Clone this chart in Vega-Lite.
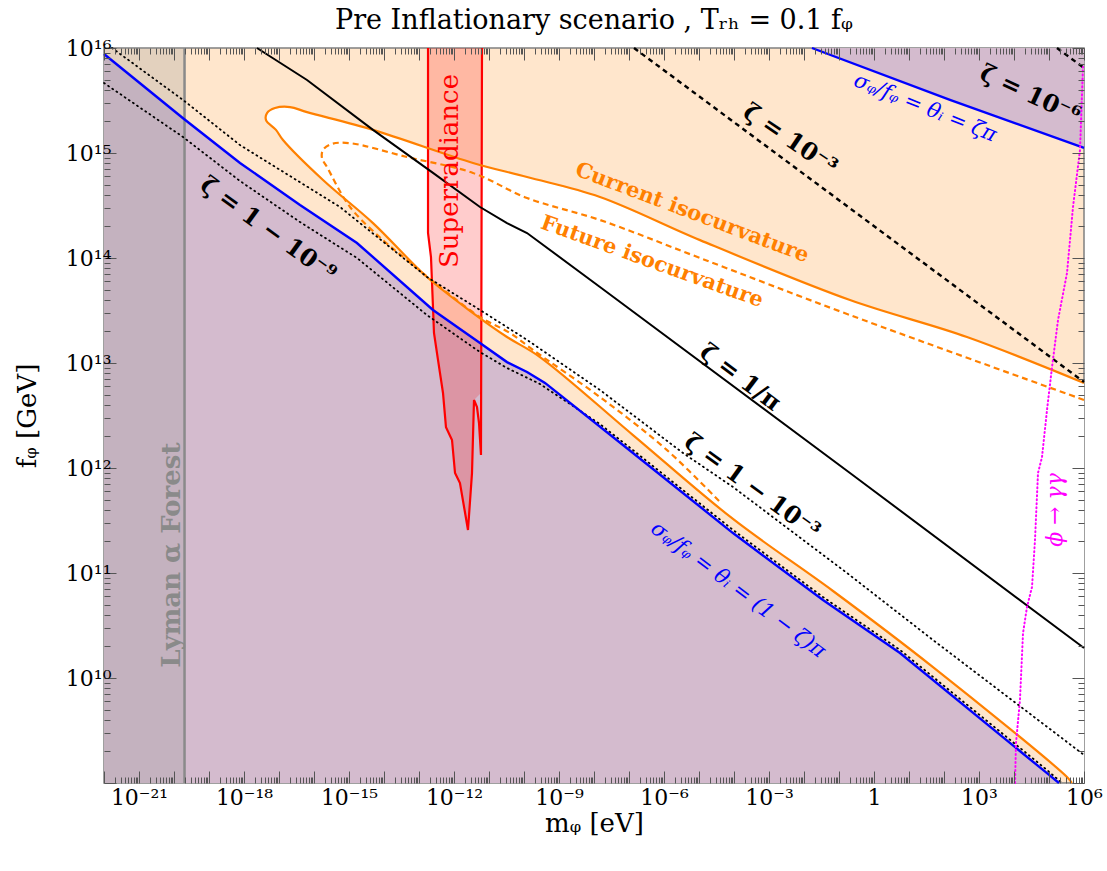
{
  "$schema": "https://vega.github.io/schema/vega-lite/v6.json",
  "width": 980,
  "height": 735,
  "autosize": {"type": "none"},
  "padding": {"left": 104, "top": 48, "right": 23, "bottom": 88},
  "background": "white",
  "title": {"text": "Pre Inflationary scenario , Tᵣₕ = 0.1 fᵩ", "font": "DejaVu Serif", "fontSize": 27, "fontWeight": "normal", "color": "black", "offset": 2},
  "config": {
    "view": {"fill": "#FFE6CC", "stroke": "#808080", "strokeWidth": 1.5},
    "axis": {"zindex": 1, "domain": false, "grid": false, "tickColor": "#555555", "tickWidth": 1, "labelFont": "DejaVu Serif", "labelFontSize": 22, "labelColor": "black", "titleFont": "DejaVu Serif", "titleFontSize": 26, "titleFontWeight": "normal", "titleColor": "black", "labelFlush": false, "labelOverlap": false}
  },
  "layer": [
    {
      "data": {"values": [
        {"f": 2.74e15, "ml": 1.22e-17, "mr": 2.06e-17},
        {"f": 2.57e15, "ml": 5.53e-18, "mr": 3.49e-17},
        {"f": 2.30e15, "ml": 4.26e-18, "mr": 1.48e-16},
        {"f": 2.06e15, "ml": 4.26e-18, "mr": 4.54e-16},
        {"f": 1.66e15, "ml": 8.2e-18, "mr": 4.85e-15},
        {"f": 1.33e15, "ml": 1.30e-17, "mr": 3.49e-14},
        {"f": 8.04e14, "ml": 5.9e-17, "mr": 3.49e-12},
        {"f": 5.53e14, "ml": 1.81e-16, "mr": 2.51e-10},
        {"f": 3.81e14, "ml": 6.74e-16, "mr": 1.48e-8},
        {"f": 2.15e14, "ml": 4.85e-15, "mr": 7.69e-7},
        {"f": 1.48e14, "ml": 1.48e-14, "mr": 1.07e-5},
        {"f": 6.59e13, "ml": 1.69e-13, "mr": 4.54e-3},
        {"f": 3.98e13, "ml": 1.14e-12, "mr": 0.206},
        {"f": 1.77e13, "ml": 3.27e-11, "mr": 454},
        {"f": 1.14e13, "ml": 2.86e-10, "mr": 1.30e4},
        {"f": 6.46e12, "ml": 2.2e-9, "mr": 1e6},
        {"f": 2.06e12, "ml": 1.30e-7, "mr": 1e6},
        {"f": 3.27e11, "ml": 9.35e-5, "mr": 1e6},
        {"f": 6.74e10, "ml": 6.74e-2, "mr": 1e6},
        {"f": 1.27e10, "ml": 48.5, "mr": 1e6},
        {"f": 1.14e9, "ml": 3.27e5, "mr": 1e6},
        {"f": 1e9, "ml": 4.54e5, "mr": 1e6}
      ]},
      "mark": {"type": "area", "orient": "horizontal", "color": "white", "opacity": 1},
      "encoding": {
        "y": {"field": "f", "type": "quantitative", "scale": {"type": "log", "domain": [1e9, 1e16], "nice": false},
          "axis": {"orient": "left", "zindex": 1, "title": "fᵩ [GeV]", "titlePadding": 25, "labelPadding": 5, "tickSize": -12,
            "values": [1e9,1e10,1e11,1e12,1e13,1e14,1e15,1e16],
            "labelExpr": "datum.value == 1e10 ? '10¹⁰' : datum.value == 1e11 ? '10¹¹' : datum.value == 1e12 ? '10¹²' : datum.value == 1e13 ? '10¹³' : datum.value == 1e14 ? '10¹⁴' : datum.value == 1e15 ? '10¹⁵' : datum.value == 1e16 ? '10¹⁶' : ''"}},
        "x": {"field": "ml", "type": "quantitative", "scale": {"type": "log", "domain": [1e-22, 1e6], "nice": false},
          "axis": {"orient": "bottom", "zindex": 1, "title": "mᵩ [eV]", "titlePadding": 2, "labelPadding": 16, "tickSize": -12,
            "values": [1e-22,1e-21,1e-20,1e-19,1e-18,1e-17,1e-16,1e-15,1e-14,1e-13,1e-12,1e-11,1e-10,1e-9,1e-8,1e-7,1e-6,1e-5,1e-4,1e-3,1e-2,1e-1,1e0,1e1,1e2,1e3,1e4,1e5,1e6],
            "labelExpr": "datum.value == 1e-21 ? '10⁻²¹' : datum.value == 1e-18 ? '10⁻¹⁸' : datum.value == 1e-15 ? '10⁻¹⁵' : datum.value == 1e-12 ? '10⁻¹²' : datum.value == 1e-9 ? '10⁻⁹' : datum.value == 1e-6 ? '10⁻⁶' : datum.value == 1e-3 ? '10⁻³' : datum.value == 1 ? '1' : datum.value == 1e3 ? '10³' : datum.value == 1e6 ? '10⁶' : ''"}},
        "x2": {"field": "mr"}
      }
    },
    {
      "data": {"values": [
        {"m": 1e-22, "f": 8.77e15}, {"m": 1.93e-20, "f": 2.11e15}, {"m": 7.69e-19, "f": 8.04e14},
        {"m": 3.98e-17, "f": 3.2e14}, {"m": 1.69e-15, "f": 1.39e14}, {"m": 2.51e-13, "f": 3.2e13},
        {"m": 5.53e-12, "f": 1.55e13}, {"m": 3.27e-11, "f": 1.02e13}, {"m": 1.22e-10, "f": 8.2e12},
        {"m": 3.98e-10, "f": 6.46e12}, {"m": 1.30e-7, "f": 1.39e12}, {"m": 9.35e-5, "f": 2.4e11},
        {"m": 3.49e-2, "f": 5.53e10}, {"m": 5.53, "f": 1.73e10}, {"m": 8.77e4, "f": 1.24e9}, {"m": 1.93e5, "f": 1e9}
      ]},
      "mark": {"type": "area", "color": "#D4BBCE", "opacity": 1},
      "encoding": {
        "x": {"field": "m", "type": "quantitative",
          "axis": {"orient": "top", "zindex": 1, "title": null, "labels": false, "tickSize": -12,
            "values": [1e-22,1e-21,1e-20,1e-19,1e-18,1e-17,1e-16,1e-15,1e-14,1e-13,1e-12,1e-11,1e-10,1e-9,1e-8,1e-7,1e-6,1e-5,1e-4,1e-3,1e-2,1e-1,1e0,1e1,1e2,1e3,1e4,1e5,1e6]}},
        "y": {"field": "f", "type": "quantitative",
          "axis": {"orient": "right", "zindex": 1, "title": null, "labels": false, "tickSize": -12,
            "values": [1e9,1e10,1e11,1e12,1e13,1e14,1e15,1e16]}},
        "y2": {"datum": 1e9}
      }
    },
    {
      "data": {"values": [{"m": 1.69e-2, "f": 1e16}, {"m": 148, "f": 3.2e15}, {"m": 1e6, "f": 1.12e15}]},
      "mark": {"type": "area", "color": "#D4BBCE", "opacity": 1},
      "encoding": {
        "x": {"field": "m", "type": "quantitative",
          "axis": {"orient": "bottom", "zindex": 1, "title": null, "labels": false, "tickSize": -6,
            "values": [2e-22,3e-22,4e-22,5e-22,6e-22,7e-22,8e-22,9e-22,2e-21,3e-21,4e-21,5e-21,6e-21,7e-21,8e-21,9e-21,2e-20,3e-20,4e-20,5e-20,6e-20,7e-20,8e-20,9e-20,2e-19,3e-19,4e-19,5e-19,6e-19,7e-19,8e-19,9e-19,2e-18,3e-18,4e-18,5e-18,6e-18,7e-18,8e-18,9e-18,2e-17,3e-17,4e-17,5e-17,6e-17,7e-17,8e-17,9e-17,2e-16,3e-16,4e-16,5e-16,6e-16,7e-16,8e-16,9e-16,2e-15,3e-15,4e-15,5e-15,6e-15,7e-15,8e-15,9e-15,2e-14,3e-14,4e-14,5e-14,6e-14,7e-14,8e-14,9e-14,2e-13,3e-13,4e-13,5e-13,6e-13,7e-13,8e-13,9e-13,2e-12,3e-12,4e-12,5e-12,6e-12,7e-12,8e-12,9e-12,2e-11,3e-11,4e-11,5e-11,6e-11,7e-11,8e-11,9e-11,2e-10,3e-10,4e-10,5e-10,6e-10,7e-10,8e-10,9e-10,2e-9,3e-9,4e-9,5e-9,6e-9,7e-9,8e-9,9e-9,2e-8,3e-8,4e-8,5e-8,6e-8,7e-8,8e-8,9e-8,2e-7,3e-7,4e-7,5e-7,6e-7,7e-7,8e-7,9e-7,2e-6,3e-6,4e-6,5e-6,6e-6,7e-6,8e-6,9e-6,2e-5,3e-5,4e-5,5e-5,6e-5,7e-5,8e-5,9e-5,2e-4,3e-4,4e-4,5e-4,6e-4,7e-4,8e-4,9e-4,2e-3,3e-3,4e-3,5e-3,6e-3,7e-3,8e-3,9e-3,2e-2,3e-2,4e-2,5e-2,6e-2,7e-2,8e-2,9e-2,2e-1,3e-1,4e-1,5e-1,6e-1,7e-1,8e-1,9e-1,2e0,3e0,4e0,5e0,6e0,7e0,8e0,9e0,2e1,3e1,4e1,5e1,6e1,7e1,8e1,9e1,2e2,3e2,4e2,5e2,6e2,7e2,8e2,9e2,2e3,3e3,4e3,5e3,6e3,7e3,8e3,9e3,2e4,3e4,4e4,5e4,6e4,7e4,8e4,9e4,2e5,3e5,4e5,5e5,6e5,7e5,8e5,9e5]}},
        "y": {"field": "f", "type": "quantitative",
          "axis": {"orient": "left", "zindex": 1, "title": null, "labels": false, "tickSize": -6,
            "values": [2e9,3e9,4e9,5e9,6e9,7e9,8e9,9e9,2e10,3e10,4e10,5e10,6e10,7e10,8e10,9e10,2e11,3e11,4e11,5e11,6e11,7e11,8e11,9e11,2e12,3e12,4e12,5e12,6e12,7e12,8e12,9e12,2e13,3e13,4e13,5e13,6e13,7e13,8e13,9e13,2e14,3e14,4e14,5e14,6e14,7e14,8e14,9e14,2e15,3e15,4e15,5e15,6e15,7e15,8e15,9e15]}},
        "y2": {"datum": 1e16}
      }
    },
    {
      "data": {"values": [{"m0": 1e-22, "m1": 2e-20}]},
      "mark": {"type": "rect", "color": "#9C9C9C", "opacity": 0.28},
      "encoding": {"x": {"field": "m0", "type": "quantitative", "axis": null}, "x2": {"field": "m1"}}
    },
    {
      "data": {"values": [{"m0": 1e-22, "m1": 2e-20}]},
      "mark": {"type": "rule", "color": "#8A8A8A", "strokeWidth": 2.5},
      "encoding": {"x": {"field": "m1", "type": "quantitative", "axis": null}}
    },
    {
      "data": {"values": [
        {"f": 1e16, "ml": 1.81e-13, "mr": 6.31e-12}, {"f": 1.73e14, "ml": 1.81e-13, "mr": 6.2e-12},
        {"f": 1.02e14, "ml": 2.2e-13, "mr": 6.2e-12}, {"f": 3.41e13, "ml": 2.51e-13, "mr": 6.1e-12},
        {"f": 1.93e13, "ml": 2.68e-13, "mr": 6.1e-12}, {"f": 1.07e13, "ml": 3.49e-13, "mr": 6.0e-12},
        {"f": 5.18e12, "ml": 4.85e-13, "mr": 5.9e-12}, {"f": 4.45e12, "ml": 5.01e-13, "mr": 3.73e-12},
        {"f": 2.45e12, "ml": 5.9e-13, "mr": 3.56e-12}, {"f": 1.85e12, "ml": 8.77e-13, "mr": 3.37e-12},
        {"f": 8.96e11, "ml": 1.07e-12, "mr": 3.27e-12}, {"f": 7.2e11, "ml": 1.48e-12, "mr": 3.12e-12},
        {"f": 2.57e11, "ml": 2.51e-12, "mr": 2.51e-12}
      ]},
      "mark": {"type": "area", "orient": "horizontal", "color": "#FF0000", "opacity": 0.2},
      "encoding": {
        "y": {"field": "f", "type": "quantitative",
          "axis": {"orient": "right", "zindex": 1, "title": null, "labels": false, "tickSize": -6,
            "values": [2e9,3e9,4e9,5e9,6e9,7e9,8e9,9e9,2e10,3e10,4e10,5e10,6e10,7e10,8e10,9e10,2e11,3e11,4e11,5e11,6e11,7e11,8e11,9e11,2e12,3e12,4e12,5e12,6e12,7e12,8e12,9e12,2e13,3e13,4e13,5e13,6e13,7e13,8e13,9e13,2e14,3e14,4e14,5e14,6e14,7e14,8e14,9e14,2e15,3e15,4e15,5e15,6e15,7e15,8e15,9e15]}},
        "x": {"field": "ml", "type": "quantitative",
          "axis": {"orient": "top", "zindex": 1, "title": null, "labels": false, "tickSize": -6,
            "values": [2e-22,3e-22,4e-22,5e-22,6e-22,7e-22,8e-22,9e-22,2e-21,3e-21,4e-21,5e-21,6e-21,7e-21,8e-21,9e-21,2e-20,3e-20,4e-20,5e-20,6e-20,7e-20,8e-20,9e-20,2e-19,3e-19,4e-19,5e-19,6e-19,7e-19,8e-19,9e-19,2e-18,3e-18,4e-18,5e-18,6e-18,7e-18,8e-18,9e-18,2e-17,3e-17,4e-17,5e-17,6e-17,7e-17,8e-17,9e-17,2e-16,3e-16,4e-16,5e-16,6e-16,7e-16,8e-16,9e-16,2e-15,3e-15,4e-15,5e-15,6e-15,7e-15,8e-15,9e-15,2e-14,3e-14,4e-14,5e-14,6e-14,7e-14,8e-14,9e-14,2e-13,3e-13,4e-13,5e-13,6e-13,7e-13,8e-13,9e-13,2e-12,3e-12,4e-12,5e-12,6e-12,7e-12,8e-12,9e-12,2e-11,3e-11,4e-11,5e-11,6e-11,7e-11,8e-11,9e-11,2e-10,3e-10,4e-10,5e-10,6e-10,7e-10,8e-10,9e-10,2e-9,3e-9,4e-9,5e-9,6e-9,7e-9,8e-9,9e-9,2e-8,3e-8,4e-8,5e-8,6e-8,7e-8,8e-8,9e-8,2e-7,3e-7,4e-7,5e-7,6e-7,7e-7,8e-7,9e-7,2e-6,3e-6,4e-6,5e-6,6e-6,7e-6,8e-6,9e-6,2e-5,3e-5,4e-5,5e-5,6e-5,7e-5,8e-5,9e-5,2e-4,3e-4,4e-4,5e-4,6e-4,7e-4,8e-4,9e-4,2e-3,3e-3,4e-3,5e-3,6e-3,7e-3,8e-3,9e-3,2e-2,3e-2,4e-2,5e-2,6e-2,7e-2,8e-2,9e-2,2e-1,3e-1,4e-1,5e-1,6e-1,7e-1,8e-1,9e-1,2e0,3e0,4e0,5e0,6e0,7e0,8e0,9e0,2e1,3e1,4e1,5e1,6e1,7e1,8e1,9e1,2e2,3e2,4e2,5e2,6e2,7e2,8e2,9e2,2e3,3e3,4e3,5e3,6e3,7e3,8e3,9e3,2e4,3e4,4e4,5e4,6e4,7e4,8e4,9e4,2e5,3e5,4e5,5e5,6e5,7e5,8e5,9e5]}},
        "x2": {"field": "mr"}
      }
    },
    {
      "data": {"values": [
        {"i": 1, "m": 1.81e-13, "f": 1e16}, {"i": 2, "m": 1.81e-13, "f": 1.73e14}, {"i": 3, "m": 2.2e-13, "f": 1.02e14},
        {"i": 4, "m": 2.51e-13, "f": 3.41e13}, {"i": 5, "m": 2.68e-13, "f": 1.93e13}, {"i": 6, "m": 3.49e-13, "f": 1.07e13},
        {"i": 7, "m": 4.85e-13, "f": 5.18e12}, {"i": 8, "m": 5.9e-13, "f": 2.45e12}, {"i": 9, "m": 8.77e-13, "f": 1.85e12},
        {"i": 10, "m": 1.07e-12, "f": 8.96e11}, {"i": 11, "m": 1.48e-12, "f": 7.2e11}, {"i": 12, "m": 2.51e-12, "f": 2.57e11},
        {"i": 13, "m": 3.27e-12, "f": 8.96e11}, {"i": 14, "m": 3.73e-12, "f": 4.45e12}, {"i": 15, "m": 4.54e-12, "f": 3.81e12},
        {"i": 16, "m": 5.18e-12, "f": 2.68e12}, {"i": 17, "m": 5.9e-12, "f": 1.33e12}, {"i": 18, "m": 6.31e-12, "f": 1e16}
      ]},
      "mark": {"type": "line", "color": "#FF0000", "strokeWidth": 2.2},
      "encoding": {"x": {"field": "m", "type": "quantitative", "axis": null}, "y": {"field": "f", "type": "quantitative", "axis": null}, "order": {"field": "i"}}
    },
    {
      "data": {"values": [
        {"i": 1, "m": 1e6, "f": 6.46e12}, {"i": 2, "m": 454, "f": 1.77e13}, {"i": 3, "m": 0.206, "f": 3.98e13},
        {"i": 4, "m": 1.07e-5, "f": 1.48e14}, {"i": 5, "m": 1.48e-8, "f": 3.81e14}, {"i": 6, "m": 1.22e-10, "f": 5.9e14},
        {"i": 7, "m": 3.49e-12, "f": 8.04e14}, {"i": 8, "m": 4.85e-15, "f": 1.66e15}, {"i": 9, "m": 6.31e-17, "f": 2.45e15},
        {"i": 10, "m": 2.06e-17, "f": 2.74e15}, {"i": 11, "m": 7.69e-18, "f": 2.68e15}, {"i": 12, "m": 4.54e-18, "f": 2.40e15},
        {"i": 13, "m": 4.26e-18, "f": 2.06e15}, {"i": 14, "m": 8.2e-18, "f": 1.66e15}, {"i": 15, "m": 1.30e-17, "f": 1.33e15},
        {"i": 16, "m": 1.81e-16, "f": 5.53e14}, {"i": 17, "m": 4.85e-15, "f": 2.15e14}, {"i": 18, "m": 1.69e-13, "f": 6.59e13},
        {"i": 19, "m": 3.49e-12, "f": 2.99e13}, {"i": 20, "m": 3.27e-11, "f": 1.77e13}, {"i": 21, "m": 2.86e-10, "f": 1.14e13},
        {"i": 22, "m": 1.30e-7, "f": 2.06e12}, {"i": 23, "m": 9.35e-5, "f": 3.27e11}, {"i": 24, "m": 6.74e-2, "f": 6.74e10},
        {"i": 25, "m": 48.5, "f": 1.27e10}, {"i": 26, "m": 3.27e5, "f": 1.14e9}, {"i": 27, "m": 4.54e5, "f": 1e9}
      ]},
      "mark": {"type": "line", "color": "#FF8000", "strokeWidth": 2.2, "interpolate": "catmull-rom"},
      "encoding": {"x": {"field": "m", "type": "quantitative", "axis": null}, "y": {"field": "f", "type": "quantitative", "axis": null}, "order": {"field": "i"}}
    },
    {
      "data": {"values": [
        {"i": 1, "m": 1e6, "f": 4.45e12}, {"i": 2, "m": 0.206, "f": 2.86e13}, {"i": 3, "m": 1.07e-5, "f": 1e14},
        {"i": 4, "m": 1.48e-8, "f": 2.30e14}, {"i": 5, "m": 1.22e-10, "f": 3.73e14}, {"i": 6, "m": 3.49e-12, "f": 6.46e14},
        {"i": 7, "m": 4.54e-14, "f": 9.16e14}, {"i": 8, "m": 1.07e-15, "f": 1.24e15}, {"i": 9, "m": 3.27e-16, "f": 1.22e15},
        {"i": 10, "m": 1.81e-16, "f": 1.07e15}, {"i": 11, "m": 1.69e-16, "f": 8.96e14}, {"i": 12, "m": 2.35e-16, "f": 7.36e14},
        {"i": 13, "m": 1.07e-15, "f": 3.06e14}, {"i": 14, "m": 9.35e-15, "f": 1.48e14}, {"i": 15, "m": 4.54e-14, "f": 9.57e13},
        {"i": 16, "m": 3.98e-13, "f": 5.3e13}, {"i": 17, "m": 5.53e-12, "f": 2.74e13}, {"i": 18, "m": 3.98e-11, "f": 1.93e13},
        {"i": 19, "m": 1.81e-10, "f": 1.33e13}, {"i": 20, "m": 1.48e-8, "f": 4.74e12}, {"i": 21, "m": 1.22e-6, "f": 1.48e12},
        {"i": 22, "m": 3.98e-5, "f": 4.74e11}
      ]},
      "mark": {"type": "line", "color": "#FF8000", "strokeWidth": 2.2, "strokeDash": [6, 4], "interpolate": "catmull-rom"},
      "encoding": {"x": {"field": "m", "type": "quantitative", "axis": null}, "y": {"field": "f", "type": "quantitative", "axis": null}, "order": {"field": "i"}}
    },
    {
      "data": {"values": [
        {"m": 2.35e-18, "f": 1e16}, {"m": 6.31e-17, "f": 4.96e15}, {"m": 4.85e-15, "f": 1.66e15},
        {"m": 2.51e-13, "f": 6.46e14}, {"m": 5.53e-12, "f": 3.06e14}, {"m": 3.27e-11, "f": 2.15e14},
        {"m": 1.22e-10, "f": 1.73e14}, {"m": 1.48e-8, "f": 5.3e13}, {"m": 0.206, "f": 8.96e11}, {"m": 1e6, "f": 1.93e10}
      ]},
      "mark": {"type": "line", "color": "black", "strokeWidth": 2},
      "encoding": {"x": {"field": "m", "type": "quantitative", "axis": null}, "y": {"field": "f", "type": "quantitative", "axis": null}}
    },
    {
      "data": {"values": [{"m": 1.39e-7, "f": 1e16}, {"m": 1e6, "f": 6.59e12}]},
      "mark": {"type": "line", "color": "black", "strokeWidth": 2.4, "strokeDash": [5, 4]},
      "encoding": {"x": {"field": "m", "type": "quantitative", "axis": null}, "y": {"field": "f", "type": "quantitative", "axis": null}}
    },
    {
      "data": {"values": [{"m": 1.69e5, "f": 1e16}, {"m": 1e6, "f": 6.46e15}]},
      "mark": {"type": "line", "color": "black", "strokeWidth": 2.4, "strokeDash": [5, 4]},
      "encoding": {"x": {"field": "m", "type": "quantitative", "axis": null}, "y": {"field": "f", "type": "quantitative", "axis": null}}
    },
    {
      "data": {"values": [
        {"m": 1.69e-22, "f": 1e16}, {"m": 1.81e-20, "f": 3.2e15}, {"m": 7.69e-19, "f": 1.19e15},
        {"m": 5.53e-16, "f": 3.06e14}, {"m": 1.69e-13, "f": 6.59e13}, {"m": 5.53e-12, "f": 3.2e13},
        {"m": 1.22e-10, "f": 1.66e13}, {"m": 1.48e-8, "f": 5.53e12}, {"m": 3.49e-6, "f": 1.39e12},
        {"m": 9.35e-5, "f": 6.59e11}, {"m": 0.169, "f": 1e11}, {"m": 48.5, "f": 2.3e10}, {"m": 1e6, "f": 1.85e9}
      ]},
      "mark": {"type": "line", "color": "black", "strokeWidth": 1.8, "strokeDash": [1, 4], "strokeCap": "round"},
      "encoding": {"x": {"field": "m", "type": "quantitative", "axis": null}, "y": {"field": "f", "type": "quantitative", "axis": null}}
    },
    {
      "data": {"values": [
        {"m": 1e-22, "f": 4.64e15}, {"m": 1.81e-20, "f": 1.42e15}, {"m": 7.69e-19, "f": 5.41e14},
        {"m": 3.98e-17, "f": 2.2e14}, {"m": 1.69e-15, "f": 1e14}, {"m": 1.69e-13, "f": 2.86e13},
        {"m": 5.53e-12, "f": 1.27e13}, {"m": 3.27e-11, "f": 8.96e12}, {"m": 2.86e-10, "f": 6.31e12},
        {"m": 1.48e-8, "f": 2.62e12}, {"m": 1.30e-7, "f": 1.48e12}, {"m": 9.35e-5, "f": 2.57e11},
        {"m": 3.49e-2, "f": 5.9e10}, {"m": 5.53, "f": 1.85e10}, {"m": 8.77e4, "f": 1.33e9}, {"m": 2.35e5, "f": 1e9}
      ]},
      "mark": {"type": "line", "color": "black", "strokeWidth": 1.8, "strokeDash": [1, 4], "strokeCap": "round"},
      "encoding": {"x": {"field": "m", "type": "quantitative", "axis": null}, "y": {"field": "f", "type": "quantitative", "axis": null}}
    },
    {
      "data": {"values": [
        {"m": 1e-22, "f": 8.77e15}, {"m": 1.93e-20, "f": 2.11e15}, {"m": 7.69e-19, "f": 8.04e14},
        {"m": 3.98e-17, "f": 3.2e14}, {"m": 1.69e-15, "f": 1.39e14}, {"m": 2.51e-13, "f": 3.2e13},
        {"m": 5.53e-12, "f": 1.55e13}, {"m": 3.27e-11, "f": 1.02e13}, {"m": 1.22e-10, "f": 8.2e12},
        {"m": 3.98e-10, "f": 6.46e12}, {"m": 1.30e-7, "f": 1.39e12}, {"m": 9.35e-5, "f": 2.4e11},
        {"m": 3.49e-2, "f": 5.53e10}, {"m": 5.53, "f": 1.73e10}, {"m": 8.77e4, "f": 1.24e9}, {"m": 1.93e5, "f": 1e9}
      ]},
      "mark": {"type": "line", "color": "#0000FF", "strokeWidth": 2.4},
      "encoding": {"x": {"field": "m", "type": "quantitative", "axis": null}, "y": {"field": "f", "type": "quantitative", "axis": null}}
    },
    {
      "data": {"values": [{"m": 1.69e-2, "f": 1e16}, {"m": 148, "f": 3.2e15}, {"m": 1e6, "f": 1.12e15}]},
      "mark": {"type": "line", "color": "#0000FF", "strokeWidth": 2.4},
      "encoding": {"x": {"field": "m", "type": "quantitative", "axis": null}, "y": {"field": "f", "type": "quantitative", "axis": null}}
    },
    {
      "data": {"values": [
        {"i": 1, "m": 1.07e4, "f": 1e9}, {"i": 2, "m": 1.14e4, "f": 2.40e9}, {"i": 3, "m": 1.48e4, "f": 6.17e9},
        {"i": 4, "m": 1.81e4, "f": 2.68e10}, {"i": 5, "m": 2.35e4, "f": 4.74e10}, {"i": 6, "m": 3.27e4, "f": 7.36e10},
        {"i": 7, "m": 3.98e4, "f": 2.06e11}, {"i": 8, "m": 4.85e4, "f": 8.96e11}, {"i": 9, "m": 6.31e4, "f": 1.27e12},
        {"i": 10, "m": 8.77e4, "f": 3.57e12}, {"i": 11, "m": 1.22e5, "f": 9.16e12}, {"i": 12, "m": 1.81e5, "f": 2.57e13},
        {"i": 13, "m": 3.27e5, "f": 7.2e13}, {"i": 14, "m": 4.85e5, "f": 3.06e14}, {"i": 15, "m": 7.69e5, "f": 1.07e15},
        {"i": 16, "m": 9.35e5, "f": 6.59e15}
      ]},
      "mark": {"type": "line", "color": "#FF00FF", "strokeWidth": 2, "strokeDash": [1, 3], "strokeCap": "round"},
      "encoding": {"x": {"field": "m", "type": "quantitative", "axis": null}, "y": {"field": "f", "type": "quantitative", "axis": null}, "order": {"field": "i"}}
    },
    {
      "data": {"values": [{"m": 7.69e-13, "f": 6.74e14, "t": "Superradiance"}]},
      "mark": {"type": "text", "angle": 270, "color": "#FF0000", "font": "DejaVu Serif", "fontSize": 26},
      "encoding": {"x": {"field": "m", "type": "quantitative", "axis": null}, "y": {"field": "f", "type": "quantitative", "axis": null}, "text": {"field": "t"}}
    },
    {
      "data": {"values": [{"m": 8.77e-21, "f": 1.48e11, "t": "Lyman α Forest"}]},
      "mark": {"type": "text", "angle": 270, "color": "#8A8A8A", "font": "DejaVu Serif", "fontSize": 26, "fontWeight": "bold"},
      "encoding": {"x": {"field": "m", "type": "quantitative", "axis": null}, "y": {"field": "f", "type": "quantitative", "axis": null}, "text": {"field": "t"}}
    },
    {
      "data": {"values": [{"m": 6.31e-6, "f": 2.68e14, "t": "Current isocurvature"}]},
      "mark": {"type": "text", "angle": 20.7, "color": "#FF8000", "font": "DejaVu Serif", "fontSize": 21, "fontWeight": "bold"},
      "encoding": {"x": {"field": "m", "type": "quantitative", "axis": null}, "y": {"field": "f", "type": "quantitative", "axis": null}, "text": {"field": "t"}}
    },
    {
      "data": {"values": [{"m": 4.54e-7, "f": 9.16e13, "t": "Future isocurvature"}]},
      "mark": {"type": "text", "angle": 19.8, "color": "#FF8000", "font": "DejaVu Serif", "fontSize": 21, "fontWeight": "bold"},
      "encoding": {"x": {"field": "m", "type": "quantitative", "axis": null}, "y": {"field": "f", "type": "quantitative", "axis": null}, "text": {"field": "t"}}
    },
    {
      "data": {"values": [{"m": 1.48e-4, "f": 7.2e12, "t": "ζ = 1/π"}]},
      "mark": {"type": "text", "angle": 37, "color": "black", "font": "DejaVu Serif", "fontSize": 24, "fontWeight": "bold"},
      "encoding": {"x": {"field": "m", "type": "quantitative", "axis": null}, "y": {"field": "f", "type": "quantitative", "axis": null}, "text": {"field": "t"}}
    },
    {
      "data": {"values": [{"m": 3.27e-4, "f": 6.59e11, "t": "ζ = 1 − 10⁻³"}]},
      "mark": {"type": "text", "angle": 36, "color": "black", "font": "DejaVu Serif", "fontSize": 24, "fontWeight": "bold"},
      "encoding": {"x": {"field": "m", "type": "quantitative", "axis": null}, "y": {"field": "f", "type": "quantitative", "axis": null}, "text": {"field": "t"}}
    },
    {
      "data": {"values": [{"m": 1.30e-4, "f": 6.89e10, "t": "σᵩ/fᵩ = θᵢ = (1 − ζ)π"}]},
      "mark": {"type": "text", "angle": 37, "color": "#0000FF", "font": "DejaVu Serif", "fontSize": 21, "fontStyle": "italic"},
      "encoding": {"x": {"field": "m", "type": "quantitative", "axis": null}, "y": {"field": "f", "type": "quantitative", "axis": null}, "text": {"field": "t"}}
    },
    {
      "data": {"values": [{"m": 4.85e-18, "f": 1.85e14, "t": "ζ = 1 − 10⁻⁹"}]},
      "mark": {"type": "text", "angle": 36, "color": "black", "font": "DejaVu Serif", "fontSize": 24, "fontWeight": "bold"},
      "encoding": {"x": {"field": "m", "type": "quantitative", "axis": null}, "y": {"field": "f", "type": "quantitative", "axis": null}, "text": {"field": "t"}}
    },
    {
      "data": {"values": [{"m": 3.98e-3, "f": 1.33e15, "t": "ζ = 10⁻³"}]},
      "mark": {"type": "text", "angle": 34, "color": "black", "font": "DejaVu Serif", "fontSize": 24, "fontWeight": "bold"},
      "encoding": {"x": {"field": "m", "type": "quantitative", "axis": null}, "y": {"field": "f", "type": "quantitative", "axis": null}, "text": {"field": "t"}}
    },
    {
      "data": {"values": [{"m": 28.6, "f": 2.68e15, "t": "σᵩ/fᵩ = θᵢ = ζπ"}]},
      "mark": {"type": "text", "angle": 22, "color": "#0000FF", "font": "DejaVu Serif", "fontSize": 21, "fontStyle": "italic"},
      "encoding": {"x": {"field": "m", "type": "quantitative", "axis": null}, "y": {"field": "f", "type": "quantitative", "axis": null}, "text": {"field": "t"}}
    },
    {
      "data": {"values": [{"m": 2.86e4, "f": 3.57e15, "t": "ζ = 10⁻⁶"}]},
      "mark": {"type": "text", "angle": 25, "color": "black", "font": "DejaVu Serif", "fontSize": 24, "fontWeight": "bold"},
      "encoding": {"x": {"field": "m", "type": "quantitative", "axis": null}, "y": {"field": "f", "type": "quantitative", "axis": null}, "text": {"field": "t"}}
    },
    {
      "data": {"values": [{"m": 1.48e5, "f": 3.98e11, "t": "ϕ → γγ"}]},
      "mark": {"type": "text", "angle": 270, "color": "#FF00FF", "font": "DejaVu Serif", "fontSize": 22, "fontStyle": "italic"},
      "encoding": {"x": {"field": "m", "type": "quantitative", "axis": null}, "y": {"field": "f", "type": "quantitative", "axis": null}, "text": {"field": "t"}}
    }
  ]
}
